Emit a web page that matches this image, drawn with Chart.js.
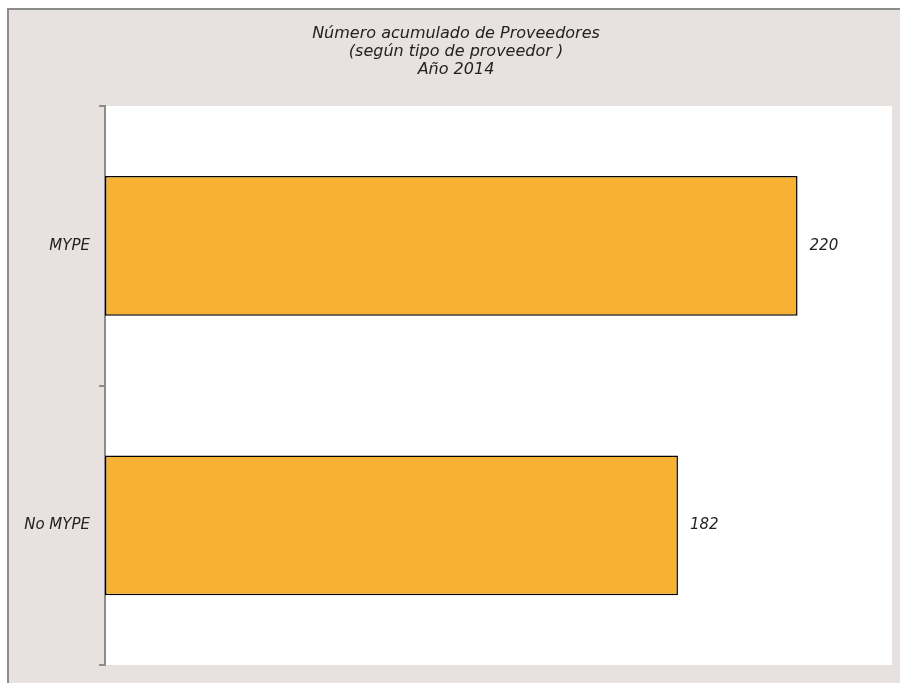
<!DOCTYPE html>
<html lang="es">
<head>
<meta charset="utf-8">
<title>Número acumulado de Proveedores</title>
<script src="https://cdn.jsdelivr.net/npm/chart.js@4.4.1/dist/chart.umd.min.js"></script>
<style>
    html, body { margin: 0; padding: 0; background: #ffffff; }
    body { width: 900px; height: 683px; position: relative; overflow: hidden; }
    #marco {
        position: absolute; left: 7px; top: 8px; right: -4px; bottom: -4px;
        background: #E7E2DF;
        border-left: 2px solid #8C8C8C;
        border-top: 2px solid #8C8C8C;
    }
    #caja { position: absolute; left: 0; top: 0; width: 900px; height: 683px; }
</style>
</head>
<body>
<div id="marco"></div>
<div id="caja"><canvas id="graficoProveedores"></canvas></div>

<script>
// Datos del gráfico
const categorias = ['MYPE', 'No MYPE'];
const proveedores = [220, 182];
const titulo = ['Número acumulado de Proveedores', '(según tipo de proveedor )', 'Año 2014'];

const fuente = "'DejaVu Sans', sans-serif";

// — Fondo blanco del área de trazado —
const fondoArea = {
    id: 'fondoArea',
    beforeDraw(chart) {
        const { ctx, chartArea } = chart;
        ctx.save();
        ctx.fillStyle = '#ffffff';
        ctx.fillRect(chartArea.left, chartArea.top, chartArea.right - chartArea.left, chartArea.bottom - chartArea.top);
        ctx.restore();
    }
};

// — Etiquetas de valor al final de cada barra —
const etiquetasValor = {
    id: 'etiquetasValor',
    afterDatasetsDraw(chart) {
        const { ctx } = chart;
        const meta = chart.getDatasetMeta(0);
        ctx.save();
        ctx.font = 'italic 15px ' + fuente;
        ctx.fillStyle = '#222222';
        ctx.textAlign = 'left';
        ctx.textBaseline = 'middle';
        meta.data.forEach((barra, i) => {
            ctx.fillText(String(chart.data.datasets[0].data[i]), barra.x + 12, barra.y);
        });
        ctx.restore();
    }
};

let ctx = document.getElementById('graficoProveedores').getContext('2d');

new Chart(ctx, {
    type: 'bar',
    data: {
        labels: categorias,
        datasets: [{
            data: proveedores,
            backgroundColor: '#F7B133',
            borderColor: '#000000',
            borderWidth: 1.5,
            borderSkipped: false,
            barPercentage: 0.5,
            categoryPercentage: 1
        }]
    },
    options: {
        indexAxis: 'y',
        responsive: true,
        maintainAspectRatio: false,
        animation: false,
        // el relleno izquierdo desplaza el título hacia la derecha como en el original
        layout: { padding: { left: 20, right: 8, top: 0, bottom: 18 } },
        plugins: {
            legend: { display: false },
            tooltip: { enabled: false },
            title: {
                display: true,
                text: titulo,
                color: '#222222',
                font: { family: fuente, size: 16, style: 'italic', weight: 'normal', lineHeight: 1.125 },
                padding: { top: 25, bottom: 27 }
            }
        },
        scales: {
            x: { display: false, min: 0, max: 250 },
            y: {
                afterFit(escala) { escala.width = 85; },
                border: { display: true, color: '#8C8C8C', width: 2 },
                grid: {
                    offset: true,
                    drawOnChartArea: false,
                    drawTicks: true,
                    tickLength: 6,
                    color: '#8C8C8C',
                    lineWidth: 2
                },
                ticks: {
                    color: '#222222',
                    padding: 9,
                    font: { family: fuente, size: 15, style: 'italic' }
                }
            }
        }
    },
    plugins: [fondoArea, etiquetasValor]
});
</script>
</body>
</html>
